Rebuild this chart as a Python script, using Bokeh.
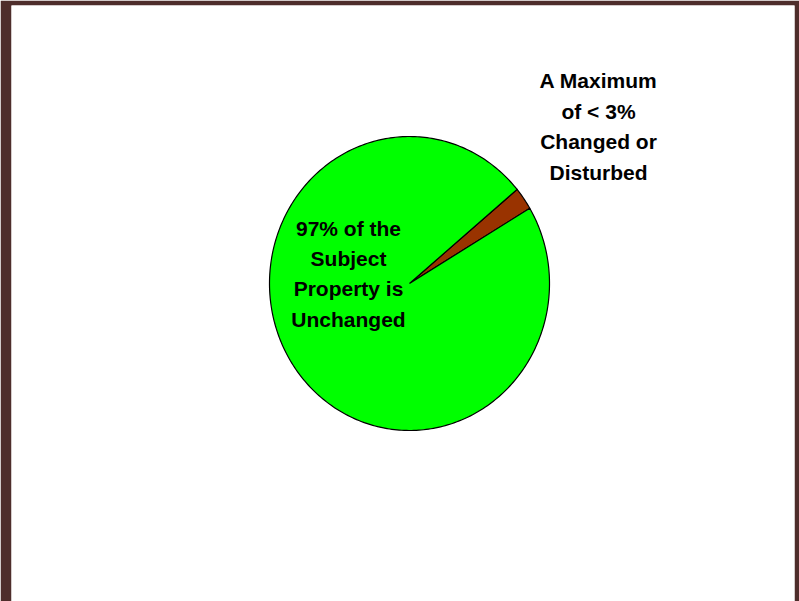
import math
from bokeh.plotting import figure
from bokeh.models import Range1d, ColumnDataSource
from bokeh.core.properties import value
from bokeh.embed import file_html
from bokeh.resources import INLINE

# Data
categories = ["Changed or Disturbed", "Unchanged"]
shares = [2.5, 97.5]
colors = ["#993300", "#00ff00"]
first_slice_angle_deg = 30.8

left_label = ["97% of the", "Subject", "Property is", "Unchanged"]
right_label = ["A Maximum", "of < 3%", "Changed or", "Disturbed"]

# Layout (pixel-based frame)
W, H = 799, 601
BL, BT, BR, BB = 11, 5, 5, 0
FW, FH = W - BL - BR, H - BT - BB
cx, cy, rx, ry = 398, 318, 140, 147

p = figure(width=W, height=H, output_backend="svg", toolbar_location=None,
           x_range=Range1d(0, FW), y_range=Range1d(0, FH),
           min_border_left=BL, min_border_right=BR, min_border_top=BT, min_border_bottom=BB)
p.axis.visible = False
p.grid.visible = False
p.outline_line_color = None
p.border_fill_color = "#4e2d2b"
p.background_fill_color = "white"

total = sum(shares)
xs, ys = [], []
a = math.radians(first_slice_angle_deg)
for s in shares:
    span = 2 * math.pi * s / total
    n = max(4, int(360 * s / total))
    px = [cx] + [cx + rx * math.cos(a + span * i / n) for i in range(n + 1)]
    py = [cy] + [cy + ry * math.sin(a + span * i / n) for i in range(n + 1)]
    xs.append(px)
    ys.append(py)
    a += span

src = ColumnDataSource(dict(cat=categories, xs=xs, ys=ys, color=colors))
p.patches(xs="xs", ys="ys", fill_color="color", line_color="black", line_width=1.2,
          line_join="miter", source=src)

font = value("Liberation Sans")
left_y = [373, 343, 313, 282]
right_y = [521, 490, 460, 429]
p.text(x=[337] * 4, y=left_y, text=left_label, text_font=font, text_font_style="bold",
       text_font_size="21px", text_align="center", text_baseline="alphabetic", text_color="black")
p.text(x=[587] * 4, y=right_y, text=right_label, text_font=font, text_font_style="bold",
       text_font_size="21px", text_align="center", text_baseline="alphabetic", text_color="black")

open("out.html", "w").write(file_html(p, INLINE))
